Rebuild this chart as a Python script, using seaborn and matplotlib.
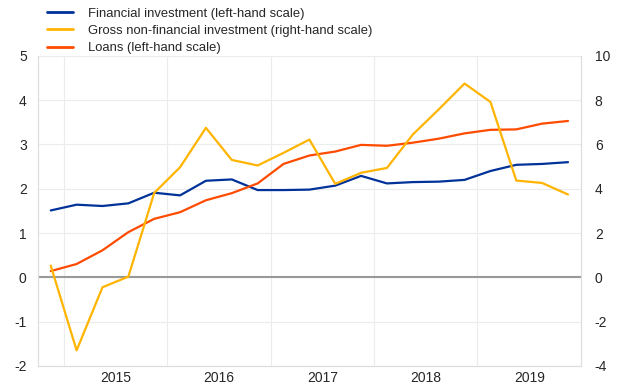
import numpy as np
import pandas as pd
import seaborn as sns
import matplotlib.pyplot as plt
from matplotlib.lines import Line2D

# quarterly data, 2014Q4 - 2019Q4
quarters = pd.period_range("2014Q4", "2019Q4", freq="Q")
financial = [1.51, 1.64, 1.61, 1.67, 1.91, 1.85, 2.18, 2.21, 1.97, 1.97, 1.98,
             2.07, 2.29, 2.12, 2.15, 2.16, 2.20, 2.40, 2.54, 2.56, 2.60]
gross_nonfin = [0.53, -3.30, -0.45, 0.03, 3.81, 4.97, 6.75, 5.30, 5.05, 5.62, 6.22,
                4.22, 4.72, 4.94, 6.45, 7.58, 8.75, 7.92, 4.37, 4.26, 3.74]
loans = [0.14, 0.30, 0.61, 1.02, 1.32, 1.47, 1.74, 1.90, 2.12, 2.56, 2.75,
         2.84, 2.99, 2.97, 3.04, 3.13, 3.25, 3.33, 3.34, 3.47, 3.53]
years = [2015, 2016, 2017, 2018, 2019]

labels = ["Financial investment (left-hand scale)",
          "Gross non-financial investment (right-hand scale)",
          "Loans (left-hand scale)"]
colors = ["#003299", "#ffb400", "#ff4b00"]

# x position: middle of each quarter in decimal years
xpos = np.array([q.year + (q.quarter - 1) / 4 + 0.125 for q in quarters])
df = pd.DataFrame({"x": xpos, "fin": financial, "gross": gross_nonfin, "loans": loans})

sns.set_style("white")
plt.rcParams["font.family"] = ["Liberation Sans", "DejaVu Sans"]
plt.rcParams["axes.unicode_minus"] = False

fig = plt.figure(figsize=(6.2, 3.88), dpi=100)
ax = fig.add_axes([0.061, 0.057, 0.876, 0.799])
ax2 = ax.twinx()

sns.lineplot(data=df, x="x", y="fin", ax=ax, color=colors[0], lw=1.6)
sns.lineplot(data=df, x="x", y="loans", ax=ax, color=colors[2], lw=1.6, zorder=3)
sns.lineplot(data=df, x="x", y="gross", ax=ax2, color=colors[1], lw=1.6)

ax.set_xlim(2014.75, 2020.0)
ax.set_ylim(-2, 5)
ax2.set_ylim(-4, 10)
ax.set_yticks(range(-2, 6))
ax2.set_yticks(range(-4, 11, 2))

ax.axhline(0, color="#999999", lw=1.5, zorder=1)

ax.set_xticks(years)
ax.set_xticklabels([])
ax.set_xticks(np.arange(2014.75, 2020.01, 0.25), minor=True)
ax.grid(axis="both", which="major", color="#ececec", lw=0.8)
ax.set_axisbelow(True)
ax.tick_params(axis="x", which="major", length=4, color="#d0d0d0", width=0.8)
ax.tick_params(axis="x", which="minor", length=2.5, color="#d0d0d0", width=0.8)
ax.tick_params(axis="y", length=0, pad=8, labelsize=10)
ax2.tick_params(axis="y", length=0, pad=10, labelsize=10)

sec = ax.secondary_xaxis("bottom")
sec.set_xticks([y + 0.5 for y in years])
sec.set_xticklabels([str(y) for y in years], fontsize=10)
sec.tick_params(length=0, pad=4)
sec.spines["bottom"].set_visible(False)

for a in (ax, ax2):
    a.set_xlabel("")
    a.set_ylabel("")
    a.spines["top"].set_visible(False)
    for s in ("left", "right", "bottom"):
        a.spines[s].set_color("#dddddd")
        a.spines[s].set_linewidth(0.8)

handles = [Line2D([], [], color=c, lw=2) for c in colors]
fig.legend(handles, labels, loc="upper left", bbox_to_anchor=(0.076, 0.98),
           frameon=False, fontsize=9.4, handlelength=2.0, handletextpad=1.1,
           labelspacing=0.38, borderpad=0, borderaxespad=0)

fig.savefig("out.png", dpi=100)
